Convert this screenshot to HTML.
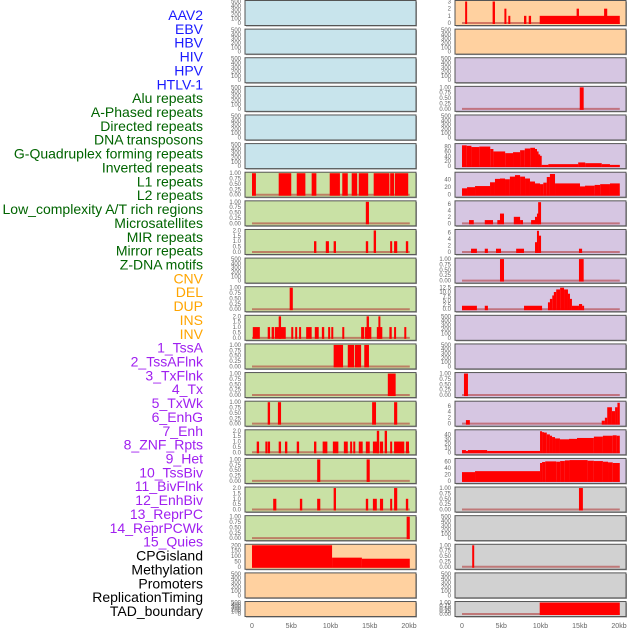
<!DOCTYPE html>
<html><head><meta charset="utf-8"><style>
html,body{margin:0;padding:0;background:#fff;width:630px;height:630px;overflow:hidden}
svg{display:block}
text{font-family:"Liberation Sans",sans-serif}
</style></head><body>
<svg id="chart" width="630" height="630" viewBox="0 0 630 630"></svg>
<script>
const trackLabels=["AAV2","EBV","HBV","HIV","HPV","HTLV-1","Alu repeats","A-Phased repeats","Directed repeats","DNA transposons","G-Quadruplex forming repeats","Inverted repeats","L1 repeats","L2 repeats","Low_complexity A/T rich regions","Microsatellites","MIR repeats","Mirror repeats","Z-DNA motifs","CNV","DEL","DUP","INS","INV","1_TssA","2_TssAFlnk","3_TxFlnk","4_Tx","5_TxWk","6_EnhG","7_Enh","8_ZNF_Rpts","9_Het","10_TssBiv","11_BivFlnk","12_EnhBiv","13_ReprPC","14_ReprPCWk","15_Quies","CPGisland","Methylation","Promoters","ReplicationTiming","TAD_boundary"];
const labelColors=["#1a1aff","#1a1aff","#1a1aff","#1a1aff","#1a1aff","#1a1aff","#006400","#006400","#006400","#006400","#006400","#006400","#006400","#006400","#006400","#006400","#006400","#006400","#006400","#ffa500","#ffa500","#ffa500","#ffa500","#ffa500","#a020f0","#a020f0","#a020f0","#a020f0","#a020f0","#a020f0","#a020f0","#a020f0","#a020f0","#a020f0","#a020f0","#a020f0","#a020f0","#a020f0","#a020f0","#000","#000","#000","#000","#000"];
const xTickValues=[0,5,10,15,20];
const xTickLabels=["0","5kb","10kb","15kb","20kb"];
const ticksEmpty=["0","100","200","300","400","500"];
const ticksUnit=["0.00","0.25","0.50","0.75","1.00"];
const ticksTwo=["0.0","0.5","1.0","1.5","2.0"];
// left column panel data (segments: start kb, end kb, value)
const leftRow6=[[0,0.5,1],[3.4,5.0,1],[5.7,6.8,1],[7.6,8.2,1],[9.9,11.2,1],[11.5,12.2,1],[12.7,13.4,1],[13.6,14.8,1],[15.5,17.5,1],[17.6,18.1,1],[18.2,19.9,1]];
const leftRow7=[[14.5,14.9,1]];
const leftRow8=[[7.9,8.2,1],[9.4,9.8,1],[10.4,10.7,1],[14.5,14.8,1],[15.5,15.8,2],[17.6,17.8,1],[18.1,18.5,1],[19.6,19.9,1]];
const leftRow10=[[4.8,5.2,1]];
const leftRow11=[[0.1,1.0,1],[2.0,2.3,1],[2.5,2.8,1],[2.9,4.3,1],[3.4,3.7,2],[5.0,5.2,1],[5.5,5.7,1],[6.0,6.2,1],[6.9,7.6,1],[8.0,8.5,1],[8.9,9.2,1],[9.7,9.9,1],[10.1,10.3,1],[11.5,11.7,1],[13.9,14.3,1],[14.4,15.2,1],[14.6,14.9,2],[15.9,16.6,1],[16.1,16.3,2],[17.5,17.8,1],[18.1,18.3,1],[19.4,19.6,1]];
const leftRow12=[[10.4,11.6,1],[12.2,13.0,1],[13.1,13.9,1],[14.3,14.9,1]];
const leftRow13=[[17.3,18.3,1]];
const leftRow14=[[2.0,2.3,1],[3.3,3.7,1],[15.3,15.8,1],[18.1,18.5,1]];
const leftRow15=[[0.6,0.9,1],[1.7,1.9,1],[2.0,2.3,1],[3.4,3.7,1],[4.2,4.5,1],[5.7,6.0,1],[7.9,8.2,1],[9.0,9.6,1],[10.3,11.0,1],[11.7,12.2,1],[12.5,12.7,1],[12.9,13.1,1],[13.6,14.1,1],[14.5,15.0,1],[15.4,16.2,1],[15.9,16.2,2],[16.3,16.7,1],[16.9,17.2,2],[17.6,17.8,1],[18.1,19.4,1],[19.6,20.0,1]];
const leftRow16=[[8.3,8.7,1],[14.6,15.0,1]];
const leftRow17=[[2.7,3.1,1],[6.1,6.4,1],[8.3,8.7,1],[10.4,10.7,2],[14.5,14.8,1],[15.4,15.9,1],[16.3,16.7,1],[17.6,17.8,1],[18.1,18.5,2],[19.6,19.9,1]];
const leftRow18=[[19.7,20.1,1]];
const leftRow19=[[0,10.2,200],[10.2,14.0,85],[14.0,20.1,75]];
// right column panel data
const rightRow0=[[0.4,0.6,3],[3.9,4.2,3],[5.4,5.6,2],[5.9,6.1,1],[7.9,8.2,1],[8.5,8.8,1],[9.9,20.1,1],[14.6,14.9,2],[18.1,18.5,2]];
const rightRow3=[[15.0,15.5,1]];
const rightRow5=[[0,0.6,85],[0.6,1.2,83],[1.2,2.2,78],[2.2,3.6,80],[3.6,4.0,70],[4.0,5.5,60],[5.5,6.5,53],[6.5,7.4,57],[7.4,8.0,65],[8.0,8.7,72],[8.7,9.3,75],[9.3,9.5,70],[9.5,9.7,60],[9.7,9.9,48],[9.9,10.15,42],[10.15,11.0,5],[11.0,14.8,8],[14.8,15.7,15],[15.7,17.8,12],[17.8,18.85,8],[18.85,20.1,5]];
const rightRow6=[[0,0.64,17],[0.64,1.66,20],[1.66,3.57,23],[3.57,4.2,33],[4.2,4.84,42],[4.84,5.48,43],[5.48,6.1,41],[6.1,6.75,48],[6.75,7.4,52],[7.4,8.03,48],[8.03,8.66,43],[8.66,9.3,35],[9.3,9.94,30],[9.94,10.36,28],[10.36,10.8,32],[10.8,11.2,47],[11.2,11.85,55],[11.85,15.03,30],[15.03,15.67,22],[15.67,16.9,24],[16.9,17.6,26],[17.6,18.85,28],[18.85,20.1,30]];
const rightRow7=[[0.9,1.5,1],[2.9,3.95,1],[4.5,4.84,1],[4.84,5.35,3],[6.6,7.4,2],[7.4,7.77,1],[8.8,9.3,1],[9.3,9.55,2],[9.55,9.8,3],[9.7,10.07,6.5]];
const rightRow8=[[1.15,1.9,1],[2.9,3.3,1],[4.33,4.97,1],[6.9,7.9,1],[9.3,9.55,3],[9.55,9.8,6.5],[9.8,10.07,5],[14.9,15.3,1]];
const rightRow9=[[4.84,5.35,1],[14.9,15.5,1]];
const rightRow10=[[0,1.9,2],[2.9,3.3,2],[7.9,10.2,2],[10.95,11.2,4],[11.2,11.5,6],[11.5,11.7,8],[11.7,12.0,10],[12.0,12.5,11.5],[12.5,13.0,12.5],[13.0,13.5,11.5],[13.5,13.75,9],[13.75,14.0,6],[14.0,14.9,2],[14.9,15.3,3],[15.3,15.5,2]];
const rightRow13=[[0.25,0.76,1]];
const rightRow14=[[0.5,1.0,1.2],[17.8,18.2,1],[18.2,18.5,2],[18.5,19.1,5.5],[19.1,19.5,4.2],[19.5,19.8,5.5],[19.8,20.1,7]];
const rightRow15=[[0,0.5,5],[0.5,0.76,3],[0.76,3.2,5],[3.2,9.94,3],[9.94,10.2,47],[10.2,10.44,45],[10.44,10.8,44],[10.8,11.2,40],[11.2,11.47,37],[11.47,11.85,34],[11.85,12.48,31],[12.48,13.63,29],[13.63,14.65,30],[14.65,16.8,32],[16.8,17.95,35],[17.95,19.2,37],[19.2,19.7,38],[19.7,20.1,37]];
const rightRow16=[[0,1.66,27],[1.66,9.94,30],[9.94,10.2,55],[10.2,10.6,58],[10.6,12.0,60],[12.0,12.5,59],[12.5,13.1,61],[13.1,13.7,63],[13.7,16.0,64],[16.0,16.8,62],[16.8,17.95,61],[17.95,18.6,59],[18.6,19.2,57],[19.2,20.1,55]];
const rightRow17=[[14.9,15.4,1]];
const rightRow19=[[1.3,1.5,1]];
const rightRow21=[[9.9,20.1,1]];

const BLUE="#c8e4ec",GREEN="#c9e1a5",ORANGE="#ffd1a0",PURPLE="#d6c6e2",GRAY="#d1d1d1";
function P(bg,ticks,ymax,data){return {bg:bg,ticks:ticks,ymax:ymax,data:data};}
const leftPanels=[
P(BLUE,ticksEmpty,500,null),P(BLUE,ticksEmpty,500,null),P(BLUE,ticksEmpty,500,null),P(BLUE,ticksEmpty,500,null),P(BLUE,ticksEmpty,500,null),P(BLUE,ticksEmpty,500,null),
P(GREEN,ticksUnit,1,leftRow6),P(GREEN,ticksUnit,1,leftRow7),P(GREEN,ticksTwo,2,leftRow8),P(GREEN,ticksEmpty,500,null),P(GREEN,ticksUnit,1,leftRow10),P(GREEN,ticksTwo,2,leftRow11),
P(GREEN,ticksUnit,1,leftRow12),P(GREEN,ticksUnit,1,leftRow13),P(GREEN,ticksUnit,1,leftRow14),P(GREEN,ticksTwo,2,leftRow15),P(GREEN,ticksUnit,1,leftRow16),P(GREEN,ticksTwo,2,leftRow17),P(GREEN,ticksUnit,1,leftRow18),
P(ORANGE,["0","50","100","150","200"],200,leftRow19),P(ORANGE,ticksEmpty,500,null),P(ORANGE,ticksEmpty,500,null)];
const rightPanels=[
P(ORANGE,["0","1","2","3"],3,rightRow0),P(ORANGE,ticksEmpty,500,null),
P(PURPLE,ticksEmpty,500,null),P(PURPLE,ticksUnit,1,rightRow3),P(PURPLE,ticksEmpty,500,null),
P(PURPLE,["0","20","40","60","80"],88,rightRow5),P(PURPLE,["0","20","40"],57,rightRow6),P(PURPLE,["0","2","4","6"],6.6,rightRow7),P(PURPLE,["0","2","4","6"],6.6,rightRow8),
P(PURPLE,ticksUnit,1,rightRow9),P(PURPLE,["0.0","2.5","5.0","7.5","10.0","12.5"],12.5,rightRow10),P(PURPLE,ticksEmpty,500,null),P(PURPLE,ticksEmpty,500,null),
P(PURPLE,ticksUnit,1,rightRow13),P(PURPLE,["0","2","4","6"],7.2,rightRow14),P(PURPLE,["0","10","20","30","40"],48,rightRow15),P(PURPLE,["0","20","40","60"],66,rightRow16),
P(GRAY,ticksUnit,1,rightRow17),P(GRAY,ticksEmpty,500,null),P(GRAY,ticksUnit,1,rightRow19),P(GRAY,ticksEmpty,500,null),P(GRAY,ticksUnit,1,rightRow21)];

const svg=document.getElementById('chart');
const NS="http://www.w3.org/2000/svg";
function mk(tag,attrs,parent){const e=document.createElementNS(NS,tag);for(const k in attrs)e.setAttribute(k,attrs[k]);(parent||svg).appendChild(e);return e;}

// labels
trackLabels.forEach(function(t,i){
  const e=mk('text',{x:203,y:15+i*13.86+5,'text-anchor':'end','font-size':'14',fill:labelColors[i]});
  e.textContent=t;
  
  
});

function drawColumn(panels,px,col){
  const pw=171;
  function xs(kb){return px+7+kb*7.85;}
  panels.forEach(function(p,i){
    const top=i*28.62+0.5, h=(i===21)?15:25;
    const g=mk('g',{});
    
    
    mk('rect',{x:px+1,y:top+1,width:pw,height:h,fill:'#999'},g);
    mk('rect',{x:px,y:top,width:pw,height:h,fill:p.bg,stroke:'#555','stroke-width':1},g);
    const y0=top+h-2.5, yt=top+1;
    function ys(v){return y0-(v/p.ymax)*(y0-yt);}
    const n=p.ticks.length;
    p.ticks.forEach(function(tl,k){
      const v=p.ymax*(k/(n-1))*( (n>1)? (parseFloat(p.ticks[n-1])/p.ymax):1 );
      const tv=parseFloat(tl);
      const yy=ys(p.ymax===500?tv:tv);
      const t=mk('text',{x:px-4,y:yy+2,'text-anchor':'end','font-size':'6',fill:'#666'},g);
      t.textContent=tl;
      
      
    });
    if(p.data){
      const bl=mk('line',{x1:xs(0),x2:xs(20.1),y1:y0,y2:y0,stroke:'#b03030','stroke-opacity':0.55,'stroke-width':2},g);
      
      
      p.data.forEach(function(s){
        const x1=xs(s[0]),x2=xs(s[1]);
        const w=Math.max(2,x2-x1);
        const yv=ys(s[2]);
        const r=mk('rect',{x:x1,y:yv,width:w,height:y0-yv+1,fill:'#ff0000'},g);
        
        
      });
    }
  });
  xTickValues.forEach(function(v,k){
    const t=mk('text',{x:xs(v),y:628,'text-anchor':'middle','font-size':'7',fill:'#666'});
    t.textContent=xTickLabels[k];
    
    
  });
}
drawColumn(leftPanels,245,'left');
drawColumn(rightPanels,455,'right');
</script>
</body></html>
